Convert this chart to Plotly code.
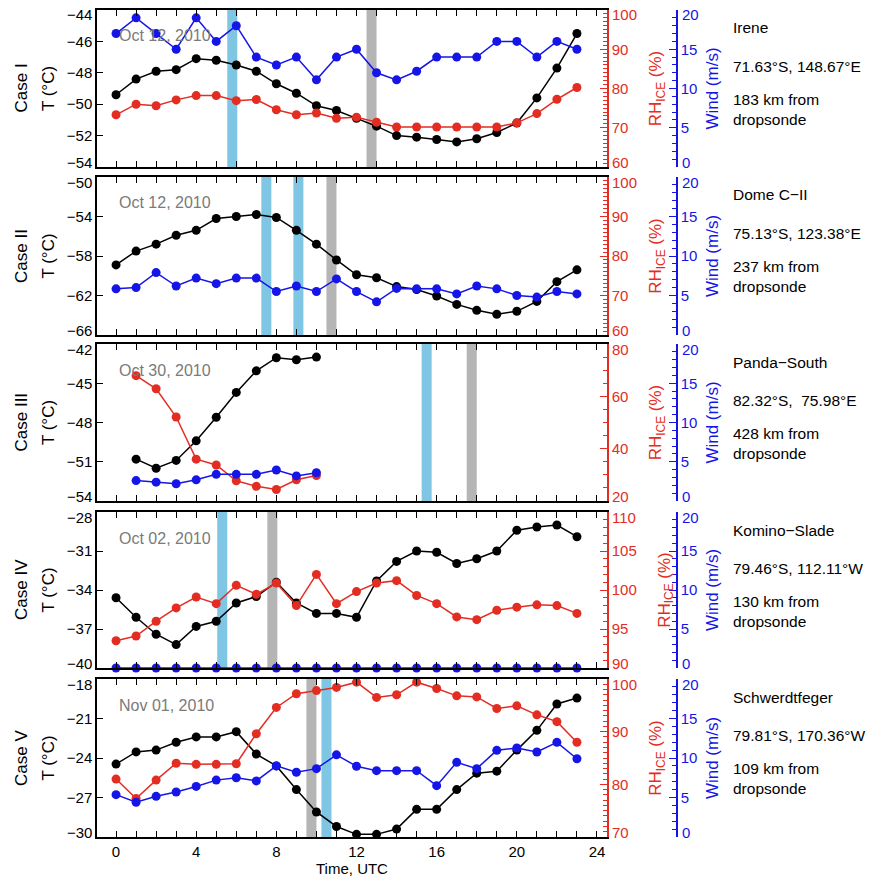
import plotly.graph_objects as go

# ---------------- data ----------------
hours = [0, 1, 2, 3, 4, 5, 6, 7, 8, 9, 10, 11, 12, 13, 14, 15, 16, 17, 18, 19, 20, 21, 22, 23]
hours_case3 = [1, 2, 3, 4, 5, 6, 7, 8, 9, 10]

case_labels = ["Case I", "Case II", "Case III", "Case IV", "Case V"]
dates = ["Oct 12, 2010", "Oct 12, 2010", "Oct 30, 2010", "Oct 02, 2010", "Nov 01, 2010"]
stations = ["Irene", "Dome C\u2212II", "Panda\u2212South", "Komino\u2212Slade", "Schwerdtfeger"]
coords = ["71.63°S, 148.67°E", "75.13°S, 123.38°E", "82.32°S,  75.98°E",
          "79.46°S, 112.11°W", "79.81°S, 170.36°W"]
distances = ["183 km from<br>dropsonde", "237 km from<br>dropsonde", "428 km from<br>dropsonde",
             "130 km from<br>dropsonde", "109 km from<br>dropsonde"]

temp_1 = [-49.4, -48.4, -47.9, -47.8, -47.1, -47.2, -47.5, -47.9, -48.7, -49.3, -50.1, -50.4,
          -50.9, -51.4, -52.0, -52.1, -52.25, -52.4, -52.2, -51.8, -51.2, -49.6, -47.7, -45.5]
rh_1 = [73.3, 76.0, 75.6, 77.1, 78.2, 78.2, 76.9, 77.2, 74.6, 73.3, 73.75, 72.4,
        72.7, 71.4, 70.2, 70.2, 70.2, 70.2, 70.2, 70.2, 71.25, 73.6, 77.25, 80.25]
wind_1 = [17.0, 19.0, 17.0, 15.0, 19.0, 16.0, 18.0, 14.0, 13.0, 14.0, 11.1, 14.0,
          15.0, 12.0, 11.1, 12.2, 14.0, 14.0, 14.0, 16.0, 16.0, 14.0, 16.0, 15.0]

temp_2 = [-58.9, -57.5, -56.8, -55.9, -55.4, -54.2, -54.0, -53.8, -54.1, -55.4, -56.8, -58.4,
          -59.9, -60.2, -61.1, -61.4, -62.05, -62.9, -63.5, -63.9, -63.6, -62.6, -60.6, -59.4]
rh_2 = []
wind_2 = [5.84, 6.0, 7.9, 6.2, 7.2, 6.5, 7.2, 7.2, 5.5, 6.2, 5.5, 7.1,
          5.5, 4.2, 5.9, 5.84, 5.84, 5.2, 6.2, 5.84, 5.0, 4.8, 5.5, 5.2]

temp_3 = [-50.8, -51.5, -50.9, -49.4, -47.6, -45.7, -44.05, -43.05, -43.2, -43.0]
rh_3 = [67.9, 62.9, 52.1, 36.0, 33.75, 27.75, 25.6, 24.4, 28.1, 29.75]
wind_3 = [2.6, 2.4, 2.2, 2.7, 3.4, 3.4, 3.4, 3.95, 3.2, 3.6]

temp_4 = [-34.6, -36.1, -37.4, -38.2, -36.8, -36.4, -35.0, -34.5, -33.4, -35.0, -35.8, -35.8,
          -36.1, -33.3, -31.8, -31.0, -31.1, -31.96, -31.6, -31.0, -29.4, -29.15, -29.0, -29.9]
rh_4 = [93.5, 94.1, 96.0, 97.7, 99.1, 98.25, 100.6, 99.45, 100.9, 98.0, 102.0, 98.25,
        99.8, 100.9, 101.2, 99.3, 98.25, 96.55, 96.2, 97.4, 97.8, 98.1, 98.0, 97.0]
wind_4 = [0, 0, 0, 0, 0, 0, 0, 0, 0, 0, 0, 0, 0, 0, 0, 0, 0, 0, 0, 0, 0, 0, 0, 0]

temp_5 = [-24.46, -23.54, -23.4, -22.8, -22.4, -22.4, -22.0, -23.7, -24.6, -26.4, -28.1, -29.2,
          -29.8, -29.8, -29.4, -27.9, -27.9, -26.4, -25.15, -25.0, -23.4, -21.9, -19.9, -19.45]
rh_5 = [81.0, 77.3, 80.8, 84.0, 83.8, 83.8, 83.9, 89.6, 94.6, 97.2, 97.8, 98.4,
        99.4, 96.5, 97.0, 99.4, 98.2, 96.8, 96.6, 94.4, 94.9, 93.2, 91.9, 88.0]
wind_5 = [5.36, 4.4, 5.15, 5.7, 6.4, 7.2, 7.5, 7.1, 9.0, 8.2, 8.65, 10.4,
          8.95, 8.4, 8.4, 8.4, 6.5, 9.45, 8.65, 10.97, 11.27, 10.76, 11.98, 9.9]

# overpass times (UTC hours) marked by vertical bars
blue_bar_times = [[5.8], [7.5, 9.1], [15.5], [5.3], [10.5]]
gray_bar_times = [[12.75], [10.75], [17.75], [7.8], [9.75]]

temp_ranges = [[-54, -44], [-66, -50], [-54, -42], [-40, -28], [-30, -18]]
temp_dticks = [2, 4, 3, 3, 3]
rh_ranges = [[60, 100], [60, 100], [20, 80], [90, 110], [70, 100]]
rh_dticks = [10, 10, 20, 5, 10]
rh_minor = [1, 1, 5, 1, 1]
wind_range = [0, 20]
wind_dtick = 5
x_ticks = [0, 4, 8, 12, 16, 20, 24]

cases = [
    (hours, temp_1, hours, rh_1, hours, wind_1),
    (hours, temp_2, [], rh_2, hours, wind_2),
    (hours_case3, temp_3, hours_case3, rh_3, hours_case3, wind_3),
    (hours, temp_4, hours, rh_4, hours, wind_4),
    (hours, temp_5, hours, rh_5, hours, wind_5),
]

# ---------------- style / layout ----------------
W, H = 869, 879
FONT = "Liberation Sans, Arial, Helvetica, sans-serif"
BLACK = "#000000"
RED = "#E32D22"
BLUE = "#1515E8"
BAR_BLUE = "#7EC6E3"
BAR_GRAY = "#B5B5B5"
DATE_GRAY = "#7A7A7A"
TICK_SIZE = 15
TITLE_SIZE = 17
TEXT_SIZE = 15.5

x_left, x_right = 97, 607
wind_axis_px = 677
text_px = 731
panel_tops = [10, 177, 344, 512, 679]
panel_bottoms = [167, 335, 501, 668, 837]
bar_half_width = 0.25
edge_shift = 5


def px_x(p):
    return p / W


def px_y(p):
    return 1 - p / H


def fmt(v):
    return str(v).replace("-", "\u2212")


def tick_list(lo, hi, step):
    vals = []
    v = lo
    while v <= hi + 1e-9:
        vals.append(v)
        v += step
    return vals


fig = go.Figure()
layout = dict(
    width=W, height=H,
    margin=dict(l=0, r=0, t=0, b=0),
    paper_bgcolor="white", plot_bgcolor="white",
    showlegend=False,
    font=dict(family=FONT, size=TICK_SIZE, color=BLACK),
)
shapes = []
annotations = []


def edge_labels(vals, xref, x, xanchor, xshift, yref, color):
    """Axis end labels, nudged inward like in the original figure."""
    for v, ys in [(vals[0], edge_shift), (vals[-1], -edge_shift)]:
        annotations.append(dict(text=fmt(v), xref=xref, x=x, xanchor=xanchor, xshift=xshift,
                                yref=yref, y=v, yanchor="middle", yshift=ys, showarrow=False,
                                font=dict(size=TICK_SIZE, color=color)))


for i, (xt, t, xr, rh, xw, wd) in enumerate(cases):
    xa = "x" if i == 0 else f"x{i+1}"
    ya_t = "y" if i == 0 else f"y{3*i+1}"
    ya_r = f"y{3*i+2}"
    ya_w = f"y{3*i+3}"
    dom_y = [px_y(panel_bottoms[i]), px_y(panel_tops[i])]
    dom_x = [px_x(x_left), px_x(x_right)]
    last = (i == 4)

    xax = dict(
        domain=dom_x, anchor=ya_t, range=[-0.95, 24.5],
        tickvals=x_ticks, showticklabels=last,
        ticks="inside", ticklen=6, tickwidth=1.2, tickcolor=BLACK,
        minor=dict(dtick=1, tick0=0, ticks="inside", ticklen=5, tickcolor=BLACK, tickwidth=1.2),
        showline=True, linecolor=BLACK, linewidth=1.5, mirror="allticks",
        showgrid=False, zeroline=False,
        tickfont=dict(size=TICK_SIZE), ticklabelstandoff=0,
        automargin=False,
    )
    if last:
        xax["title"] = dict(text="Time, UTC", font=dict(size=TICK_SIZE), standoff=0)
    layout["xaxis" if i == 0 else f"xaxis{i+1}"] = xax

    tv = tick_list(temp_ranges[i][0], temp_ranges[i][1], temp_dticks[i])
    layout["yaxis" if i == 0 else f"yaxis{3*i+1}"] = dict(
        domain=dom_y, anchor=xa, range=temp_ranges[i],
        tickvals=tv[1:-1], ticktext=[fmt(v) for v in tv[1:-1]],
        ticks="inside", ticklen=6, tickwidth=1.2, tickcolor=BLACK,
        showline=True, linecolor=BLACK, linewidth=1.5, mirror=False,
        showgrid=False, zeroline=False, tickfont=dict(size=TICK_SIZE),
        title=dict(text="T (°C)", font=dict(size=TITLE_SIZE), standoff=8),
        automargin=False,
    )
    edge_labels(tv, f"{xa} domain", 0, "right", -3, ya_t, BLACK)

    rv = tick_list(rh_ranges[i][0], rh_ranges[i][1], rh_dticks[i])
    layout[f"yaxis{3*i+2}"] = dict(
        domain=dom_y, anchor=xa, overlaying=ya_t, side="right",
        range=rh_ranges[i],
        tickvals=rv[1:-1], ticktext=[fmt(v) for v in rv[1:-1]],
        ticks="inside", ticklen=7, tickwidth=1.2, tickcolor=RED,
        minor=dict(dtick=rh_minor[i], tick0=rh_ranges[i][0], ticks="inside", ticklen=4,
                   tickcolor=RED, tickwidth=1),
        showline=True, linecolor=RED, linewidth=1.5,
        showgrid=False, zeroline=False, tickfont=dict(size=TICK_SIZE, color=RED),
        title=dict(text="RH<sub>ICE</sub> (%)", font=dict(size=TITLE_SIZE, color=RED), standoff=22),
        automargin=False,
    )
    edge_labels(rv, f"{xa} domain", 1, "left", 3, ya_r, RED)

    wv = tick_list(wind_range[0], wind_range[1], wind_dtick)
    layout[f"yaxis{3*i+3}"] = dict(
        domain=dom_y, anchor="free", overlaying=ya_t, side="right",
        position=px_x(wind_axis_px),
        range=wind_range,
        tickvals=wv[1:-1], ticktext=[fmt(v) for v in wv[1:-1]],
        ticks="inside", ticklen=7, tickwidth=1.2, tickcolor=BLUE,
        minor=dict(dtick=1, ticks="inside", ticklen=4, tickcolor=BLUE, tickwidth=1),
        showline=True, linecolor=BLUE, linewidth=1.5,
        showgrid=False, zeroline=False, tickfont=dict(size=TICK_SIZE, color=BLUE),
        title=dict(text="Wind (m/s)", font=dict(size=TITLE_SIZE, color=BLUE), standoff=9),
        automargin=False,
    )
    edge_labels(wv, "paper", px_x(wind_axis_px), "left", 3, ya_w, BLUE)

    # overpass bars
    for tb in blue_bar_times[i]:
        shapes.append(dict(type="rect", xref=xa, yref=f"{ya_t} domain",
                           x0=tb - bar_half_width, x1=tb + bar_half_width, y0=0, y1=1,
                           fillcolor=BAR_BLUE, line=dict(width=0), layer="below"))
    for tb in gray_bar_times[i]:
        shapes.append(dict(type="rect", xref=xa, yref=f"{ya_t} domain",
                           x0=tb - bar_half_width, x1=tb + bar_half_width, y0=0, y1=1,
                           fillcolor=BAR_GRAY, line=dict(width=0), layer="below"))

    # traces
    mk = dict(size=9)
    fig.add_trace(go.Scatter(x=xt, y=t, xaxis=xa, yaxis=ya_t, mode="lines+markers",
                             line=dict(color=BLACK, width=1.5), marker=dict(color=BLACK, **mk),
                             cliponaxis=False, name="T"))
    fig.add_trace(go.Scatter(x=xr, y=rh, xaxis=xa, yaxis=ya_r, mode="lines+markers",
                             line=dict(color=RED, width=1.5), marker=dict(color=RED, **mk),
                             cliponaxis=False, name="RH ice"))
    fig.add_trace(go.Scatter(x=xw, y=wd, xaxis=xa, yaxis=ya_w, mode="lines+markers",
                             line=dict(color=BLUE, width=1.5), marker=dict(color=BLUE, **mk),
                             cliponaxis=False, name="Wind"))

    # texts
    top = panel_tops[i]
    mid = (panel_tops[i] + panel_bottoms[i]) / 2
    annotations.append(dict(text=case_labels[i], xref="paper", yref="paper", textangle=-90,
                            x=px_x(21), y=px_y(mid), xanchor="center", yanchor="middle",
                            showarrow=False, font=dict(size=TITLE_SIZE, color=BLACK)))
    annotations.append(dict(text=dates[i], xref="paper", yref="paper",
                            x=px_x(117), y=px_y(top + 26), xanchor="left", yanchor="middle",
                            showarrow=False, font=dict(size=16, color=DATE_GRAY)))
    for txt, dy in [(stations[i], 18), (coords[i], 56), (distances[i], 99)]:
        annotations.append(dict(text=txt, xref="paper", yref="paper", align="left",
                                x=px_x(text_px), y=px_y(top + dy), xanchor="left", yanchor="middle",
                                showarrow=False, font=dict(size=TEXT_SIZE, color=BLACK)))

layout["shapes"] = shapes
layout["annotations"] = annotations
fig.update_layout(**layout)
fig.write_html("out.html", config={"displayModeBar": False},
               post_script="document.body.style.margin='0px';")
